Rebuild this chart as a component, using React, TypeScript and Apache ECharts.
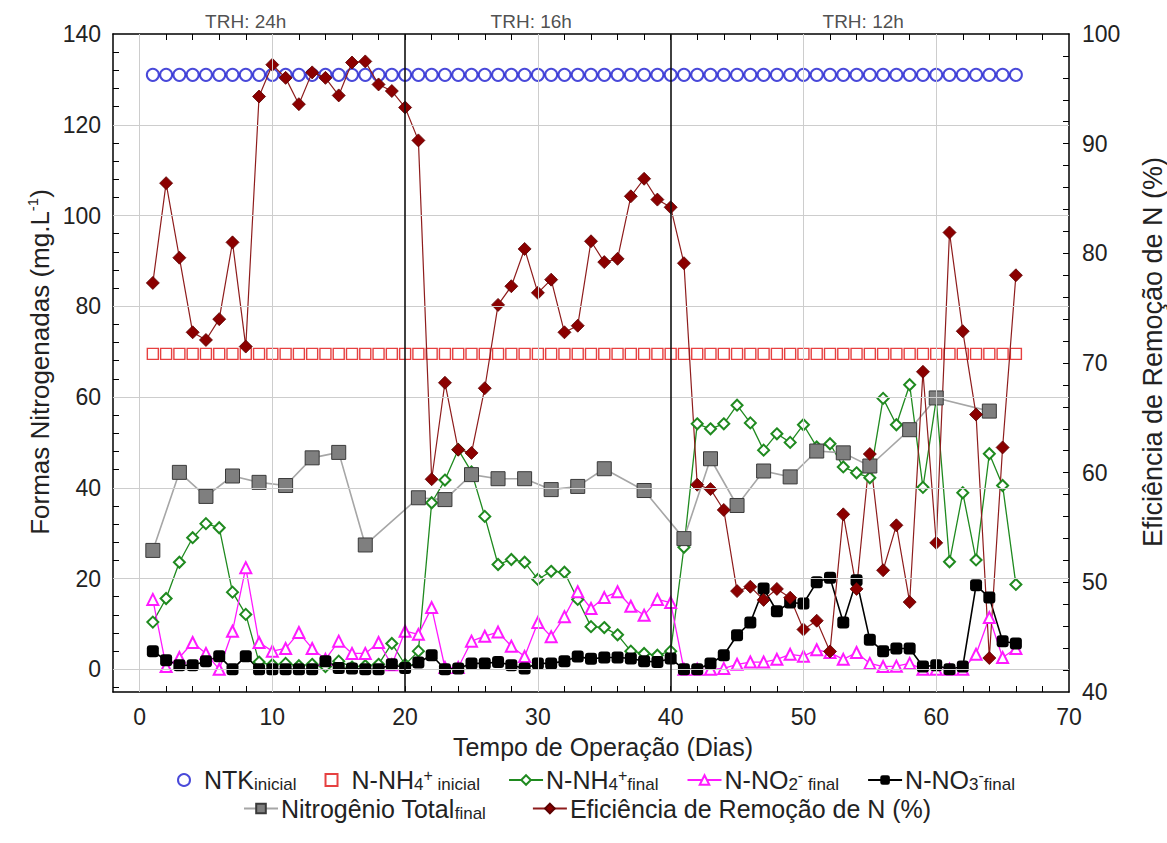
import React, { useEffect, useRef } from "react";
import * as echarts from "echarts";

// Operating days (x) for the daily series
const days = [
  1, 2, 3, 4, 5, 6, 7, 8, 9, 10, 11, 12, 13, 14, 15, 16, 17, 18, 19, 20, 21, 22,
  23, 24, 25, 26, 27, 28, 29, 30, 31, 32, 33, 34, 35, 36, 37, 38, 39, 40, 41, 42,
  43, 44, 45, 46, 47, 48, 49, 50, 51, 52, 53, 54, 55, 56, 57, 58, 59, 60, 61, 62,
  63, 64, 65, 66,
];

// NTK inicial (mg/L)
const ntkInicial = [
  131, 131, 131, 131, 131, 131, 131, 131, 131, 131, 131, 131, 131, 131, 131, 131,
  131, 131, 131, 131, 131, 131, 131, 131, 131, 131, 131, 131, 131, 131, 131, 131,
  131, 131, 131, 131, 131, 131, 131, 131, 131, 131, 131, 131, 131, 131, 131, 131,
  131, 131, 131, 131, 131, 131, 131, 131, 131, 131, 131, 131, 131, 131, 131, 131,
  131, 131,
];

// N-NH4+ inicial (mg/L)
const nh4Inicial = [
  69.5, 69.5, 69.5, 69.5, 69.5, 69.5, 69.5, 69.5, 69.5, 69.5, 69.5, 69.5, 69.5,
  69.5, 69.5, 69.5, 69.5, 69.5, 69.5, 69.5, 69.5, 69.5, 69.5, 69.5, 69.5, 69.5,
  69.5, 69.5, 69.5, 69.5, 69.5, 69.5, 69.5, 69.5, 69.5, 69.5, 69.5, 69.5, 69.5,
  69.5, 69.5, 69.5, 69.5, 69.5, 69.5, 69.5, 69.5, 69.5, 69.5, 69.5, 69.5, 69.5,
  69.5, 69.5, 69.5, 69.5, 69.5, 69.5, 69.5, 69.5, 69.5, 69.5, 69.5, 69.5, 69.5,
  69.5,
];

// N-NH4+ final (mg/L)
const nh4Final = [
  10.4, 15.6, 23.6, 29.0, 32.1, 31.2, 17.0, 12.1, 1.6, 1.0, 1.3, 0.8, 1.1, 0.6,
  1.8, 0.5, 0.8, 1.1, 5.7, 1.0, 4.0, 36.7, 41.7, 48.4, 43.5, 33.7, 23.1, 24.2,
  23.6, 19.8, 21.6, 21.4, 15.4, 9.4, 9.2, 7.6, 4.0, 3.5, 3.1, 4.0, 26.9, 54.1,
  53.0, 54.1, 58.2, 54.3, 48.3, 51.9, 50.0, 53.9, 49.0, 49.7, 44.6, 43.3, 42.2,
  59.7, 53.9, 62.7, 40.1, 59.5, 23.7, 38.9, 24.1, 47.5, 40.5, 18.7,
];

// N-NO2- final (mg/L)
const no2Final = [
  15.4, 0.6, 2.6, 5.9, 3.5, 0.0, 8.4, 22.4, 5.9, 4.0, 4.6, 8.1, 4.6, 2.2, 6.2,
  3.5, 3.5, 5.9, 1.0, 8.4, 7.7, 13.6, 0.4, 0.4, 6.2, 7.3, 8.2, 5.1, 2.8, 10.3,
  7.2, 11.6, 17.1, 13.4, 15.8, 17.1, 13.9, 11.9, 15.4, 14.7, 0.0, 0.0, 0.0, 0.2,
  1.1, 1.6, 1.6, 2.2, 3.3, 2.9, 4.3, 3.7, 2.2, 3.7, 1.3, 0.6, 0.7, 1.3, 0.0, 0.0,
  0.0, 0.0, 3.3, 11.4, 2.6, 4.6,
];

// N-NO3- final (mg/L)
const no3Final = [
  4.0, 2.0, 0.9, 0.9, 1.8, 2.9, 0.0, 2.9, 0.0, 0.0, 0.0, 0.0, 0.0, 1.8, 0.3, 0.2,
  0.0, 0.0, 1.1, 0.3, 1.5, 3.1, 0.0, 0.2, 1.3, 1.3, 1.6, 0.9, 0.2, 1.3, 1.3, 1.8,
  2.8, 2.3, 2.6, 2.6, 2.4, 1.8, 1.6, 2.4, 0.0, 0.0, 1.3, 3.1, 7.5, 10.3, 17.8,
  12.8, 14.7, 14.5, 19.2, 20.2, 10.3, 19.6, 6.5, 4.0, 4.6, 4.6, 0.6, 0.9, 0.0,
  0.6, 18.5, 15.8, 6.2, 5.7,
];

// Nitrogênio total final (mg/L), sampled on fewer days
const nTotalDays = [
  1, 3, 5, 7, 9, 11, 13, 15, 17, 21, 23, 25, 27, 29, 31, 33, 35, 38, 41, 43, 45,
  47, 49, 51, 53, 55, 58, 60, 64,
];
const nTotal = [
  26.2, 43.4, 38.1, 42.6, 41.2, 40.5, 46.6, 47.8, 27.4, 37.8, 37.4, 42.9, 42.0,
  42.0, 39.6, 40.3, 44.2, 39.4, 28.8, 46.4, 36.1, 43.7, 42.4, 48.1, 47.7, 44.8,
  52.8, 59.8, 56.9,
];

// Eficiência de remoção de N (%), right axis
const eficiencia = [
  77.3, 86.4, 79.6, 72.8, 72.1, 74.0, 81.0, 71.5, 94.3, 97.2, 96.0, 93.6, 96.5,
  96.0, 94.4, 97.4, 97.5, 95.4, 94.8, 93.3, 90.3, 59.4, 68.2, 62.1, 61.8, 67.7,
  75.3, 77.0, 80.4, 76.4, 77.6, 72.8, 73.4, 81.1, 79.2, 79.5, 85.2, 86.8, 84.9,
  84.2, 79.1, 58.9, 58.5, 56.6, 49.2, 49.6, 48.4, 49.4, 48.6, 45.7, 46.5, 43.7,
  56.2, 49.4, 61.7, 51.1, 55.2, 48.2, 69.2, 53.6, 81.9, 72.9, 65.3, 43.1, 62.3,
  78.0,
];

// Axis ticks, labels and reference lines
const xLabels = [0, 10, 20, 30, 40, 50, 60, 70];
const xTicks = [
  0, 2, 4, 6, 8, 10, 12, 14, 16, 18, 20, 22, 24, 26, 28, 30, 32, 34, 36, 38, 40,
  42, 44, 46, 48, 50, 52, 54, 56, 58, 60, 62, 64, 66, 68,
];
const leftLabels = [0, 20, 40, 60, 80, 100, 120, 140];
const leftTicks = [
  -4, 0, 4, 8, 12, 16, 20, 24, 28, 32, 36, 40, 44, 48, 52, 56, 60, 64, 68, 72, 76,
  80, 84, 88, 92, 96, 100, 104, 108, 112, 116, 120, 124, 128, 132, 136,
];
const rightLabels = [40, 50, 60, 70, 80, 90, 100];
const rightTicks = [
  42, 44, 46, 48, 50, 52, 54, 56, 58, 60, 62, 64, 66, 68, 70, 72, 74, 76, 78, 80,
  82, 84, 86, 88, 90, 92, 94, 96, 98,
];
const xGrid = [0, 10, 30, 50, 60];
const yGrid = [0, 20, 40, 60, 80, 100, 120];
const phaseBreaks = [20, 40];
const phaseLabels = ["TRH: 24h", "TRH: 16h", "TRH: 12h"];
const phaseLabelDays = [8, 29.5, 54.5];

const FONT = "'Liberation Sans', Arial, Helvetica, sans-serif";
const TXT = "#222";
const SQUARE = "path://M0,0L10,0L10,10L0,10Z";

const pairs = (xs: number[], ys: number[]) => xs.map((x, i) => [x, ys[i]]);

const richStyles = {
  b: { fontSize: 25, lineHeight: 26, fontFamily: FONT, color: TXT },
  sub: { fontSize: 17, lineHeight: 15, verticalAlign: "bottom", fontFamily: FONT, color: TXT },
  sup: { fontSize: 16, lineHeight: 12, verticalAlign: "top", fontFamily: FONT, color: TXT },
};

const legendText: Record<string, string> = {
  ntk: "{b|NTK}{sub|inicial}",
  nh4i: "{b|N-NH}{sub|4}{sup|+}{sub| inicial}",
  nh4f: "{b|N-NH}{sub|4}{sup|+}{sub|final}",
  no2: "{b|N-NO}{sub|2}{sup|-}{sub| final}",
  no3: "{b|N-NO}{sub|3}{sup|-}{sub|final}",
  ntot: "{b|Nitrogênio Total}{sub|final}",
  eff: "{b|Eficiência de Remoção de N (%)}",
};

function buildOption() {
  const axisLine = { show: true, onZero: false, lineStyle: { color: "#000", width: 1.5 } };
  const tickStyle = { color: "#000", width: 1 };
  const labelStyle = { fontSize: 23, color: TXT, fontFamily: FONT };
  const legendBase = {
    itemWidth: 34,
    itemHeight: 12,
    symbolKeepAspect: true,
    formatter: (n: string) => legendText[n],
    textStyle: { fontFamily: FONT, color: TXT, rich: richStyles, padding: [0, 0, 0, -2] },
    selectedMode: false,
  };

  return {
    animation: false,
    backgroundColor: "#fff",
    textStyle: { fontFamily: FONT },
    grid: { left: 113, right: 98, top: 34, bottom: 151 },
    xAxis: [
      {
        type: "value",
        min: -2,
        max: 70,
        position: "bottom",
        axisLine,
        axisTick: { show: true, inside: true, length: 6, customValues: xTicks, lineStyle: tickStyle },
        axisLabel: { ...labelStyle, customValues: xLabels, margin: 13 },
        splitLine: { show: false },
      },
      {
        type: "value",
        min: -2,
        max: 70,
        position: "top",
        axisLine,
        axisTick: { show: true, inside: true, length: 6, customValues: xTicks, lineStyle: tickStyle },
        axisLabel: { show: false },
        splitLine: { show: false },
      },
    ],
    yAxis: [
      {
        type: "value",
        min: -5,
        max: 140,
        position: "left",
        axisLine,
        axisTick: { show: true, inside: true, length: 6, customValues: leftTicks, lineStyle: tickStyle },
        axisLabel: { ...labelStyle, customValues: leftLabels, margin: 12 },
        splitLine: { show: false },
      },
      {
        type: "value",
        min: 40,
        max: 100,
        position: "right",
        axisLine,
        axisTick: { show: true, inside: true, length: 6, customValues: rightTicks, lineStyle: tickStyle },
        axisLabel: { ...labelStyle, customValues: rightLabels, margin: 13 },
        splitLine: { show: false },
      },
    ],
    legend: [
      {
        ...legendBase,
        data: [
          { name: "ntk", icon: "emptyCircle" },
          { name: "nh4i", icon: SQUARE },
          "nh4f",
          "no2",
          "no3",
        ],
        left: 172,
        top: 762,
        itemGap: 28,
      },
      {
        ...legendBase,
        data: ["ntot", "eff"],
        left: 238,
        top: 791,
        itemGap: 46,
      },
    ],
    graphic: [
      {
        type: "text",
        x: 40,
        y: 362,
        rotation: Math.PI / 2,
        style: {
          text: "{b|Formas Nitrogenadas (mg.L}{sup|-1}{b|)}",
          align: "center",
          verticalAlign: "middle",
          rich: {
            b: { fontSize: 26, lineHeight: 30, fontFamily: FONT, fill: TXT },
            sup: { fontSize: 15, lineHeight: 14, verticalAlign: "top", fontFamily: FONT, fill: TXT },
          },
        },
      },
      {
        type: "text",
        x: 1153,
        y: 352,
        rotation: Math.PI / 2,
        style: {
          text: "Eficiência de Remoção de N (%)",
          align: "center",
          verticalAlign: "middle",
          fontSize: 27,
          fontFamily: FONT,
          fill: TXT,
        },
      },
      {
        type: "text",
        x: 603,
        y: 747,
        style: {
          text: "Tempo de Operação (Dias)",
          align: "center",
          verticalAlign: "middle",
          fontSize: 25,
          fontFamily: FONT,
          fill: TXT,
        },
      },
    ],
    series: [
      {
        name: "grid",
        type: "line",
        data: [],
        z: 1,
        silent: true,
        markLine: {
          silent: true,
          symbol: "none",
          label: { show: false },
          animation: false,
          lineStyle: { color: "#cdcdcd", width: 1, type: "solid" },
          data: [
            ...xGrid.map((v) => ({ xAxis: v })),
            ...yGrid.map((v) => ({ yAxis: v })),
            ...phaseBreaks.map((v) => ({ xAxis: v, lineStyle: { color: "#111", width: 1.6, type: "solid" } })),
          ],
        },
      },
      {
        name: "phases",
        type: "scatter",
        data: phaseLabelDays.map((d, i) => ({ value: [d, 140], name: phaseLabels[i] })),
        symbolSize: 0,
        silent: true,
        label: {
          show: true,
          position: "top",
          distance: 3,
          formatter: (p: any) => p.name,
          fontSize: 19,
          color: TXT,
          fontFamily: FONT,
        },
      },
      {
        name: "ntk",
        type: "scatter",
        data: pairs(days, ntkInicial),
        symbol: "emptyCircle",
        symbolSize: 12,
        itemStyle: { color: "#1c1ccf", borderWidth: 1.4 },
      },
      {
        name: "nh4i",
        type: "scatter",
        data: pairs(days, nh4Inicial),
        symbol: SQUARE,
        symbolSize: 11,
        symbolKeepAspect: true,
        itemStyle: { color: "#ffffff", borderColor: "#e01010", borderWidth: 1.4 },
      },
      {
        name: "nh4f",
        type: "line",
        data: pairs(days, nh4Final),
        symbol: "emptyDiamond",
        symbolSize: 11,
        showAllSymbol: true,
        lineStyle: { color: "#1f8a1f", width: 1.3 },
        itemStyle: { color: "#1f8a1f", borderWidth: 1.6 },
      },
      {
        name: "no2",
        type: "line",
        data: pairs(days, no2Final),
        symbol: "emptyTriangle",
        symbolSize: 11,
        showAllSymbol: true,
        lineStyle: { color: "#ff1aff", width: 1.3 },
        itemStyle: { color: "#ff1aff", borderWidth: 1.3 },
      },
      {
        name: "no3",
        type: "line",
        data: pairs(days, no3Final),
        symbol: "roundRect",
        symbolSize: 12,
        showAllSymbol: true,
        lineStyle: { color: "#000", width: 1.6 },
        itemStyle: { color: "#000" },
      },
      {
        name: "ntot",
        type: "line",
        data: pairs(nTotalDays, nTotal),
        symbol: "rect",
        symbolSize: 14,
        showAllSymbol: true,
        lineStyle: { color: "#a6a6a6", width: 1.6 },
        itemStyle: { color: "#7f7f7f", borderColor: "#3a3a3a", borderWidth: 1 },
      },
      {
        name: "eff",
        type: "line",
        yAxisIndex: 1,
        data: pairs(days, eficiencia),
        symbol: "diamond",
        symbolSize: 13,
        showAllSymbol: true,
        lineStyle: { color: "#8e1c1c", width: 1.2 },
        itemStyle: { color: "#8b0000", borderColor: "#5c0000", borderWidth: 0.8 },
      },
    ],
  };
}

export default function App() {
  const ref = useRef<HTMLDivElement>(null);

  useEffect(() => {
    document.body.style.margin = "0";
    if (!ref.current) return;
    const chart = echarts.init(ref.current, undefined, { renderer: "svg" });
    chart.setOption(buildOption() as any);
    return () => chart.dispose();
  }, []);

  return (
    <div
      ref={ref}
      style={{ position: "absolute", left: 0, top: 0, width: 1167, height: 843, background: "#fff" }}
    />
  );
}
